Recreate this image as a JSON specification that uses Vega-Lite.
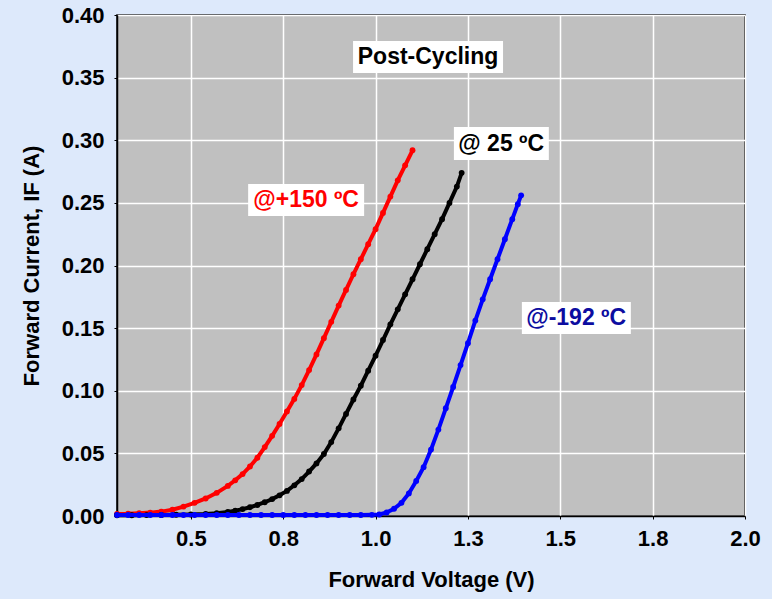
{
  "$schema": "https://vega.github.io/schema/vega-lite/v6.json",
  "width": 628,
  "height": 501,
  "autosize": {"type": "none"},
  "padding": {"left": 117, "top": 15, "right": 27, "bottom": 83},
  "background": "#dde9fb",
  "config": {
    "font": "Liberation Sans",
    "view": {"fill": "#c0c0c0", "stroke": "#000000", "strokeWidth": 1.5},
    "axis": {
      "gridColor": "#ffffff", "gridWidth": 1.5, "gridOpacity": 1,
      "domainColor": "#000000", "domainWidth": 1.5,
      "tickColor": "#000000", "tickSize": 3,
      "labelFont": "Liberation Sans", "labelFontSize": 22, "labelFontWeight": "bold", "labelColor": "#000000",
      "titleFont": "Liberation Sans", "titleFontSize": 22, "titleFontWeight": "bold", "titleColor": "#000000"
    }
  },
  "datasets": {
    "curves": [
      {"s": "+150", "v": 0.30, "i": 0.0016}, {"s": "+150", "v": 0.33, "i": 0.0018}, {"s": "+150", "v": 0.36, "i": 0.0022},
      {"s": "+150", "v": 0.39, "i": 0.0027}, {"s": "+150", "v": 0.42, "i": 0.0035}, {"s": "+150", "v": 0.45, "i": 0.0050},
      {"s": "+150", "v": 0.48, "i": 0.0075}, {"s": "+150", "v": 0.51, "i": 0.0105}, {"s": "+150", "v": 0.54, "i": 0.0140},
      {"s": "+150", "v": 0.57, "i": 0.0185}, {"s": "+150", "v": 0.60, "i": 0.0240}, {"s": "+150", "v": 0.62, "i": 0.0285},
      {"s": "+150", "v": 0.64, "i": 0.0335}, {"s": "+150", "v": 0.66, "i": 0.0395}, {"s": "+150", "v": 0.68, "i": 0.0465},
      {"s": "+150", "v": 0.70, "i": 0.0550}, {"s": "+150", "v": 0.72, "i": 0.0640}, {"s": "+150", "v": 0.74, "i": 0.0735},
      {"s": "+150", "v": 0.76, "i": 0.0835}, {"s": "+150", "v": 0.78, "i": 0.0935}, {"s": "+150", "v": 0.80, "i": 0.1045},
      {"s": "+150", "v": 0.82, "i": 0.1165}, {"s": "+150", "v": 0.84, "i": 0.1290}, {"s": "+150", "v": 0.86, "i": 0.1420},
      {"s": "+150", "v": 0.88, "i": 0.1550}, {"s": "+150", "v": 0.90, "i": 0.1680}, {"s": "+150", "v": 0.92, "i": 0.1805},
      {"s": "+150", "v": 0.94, "i": 0.1930}, {"s": "+150", "v": 0.96, "i": 0.2050}, {"s": "+150", "v": 0.98, "i": 0.2170},
      {"s": "+150", "v": 1.00, "i": 0.2290}, {"s": "+150", "v": 1.02, "i": 0.2420}, {"s": "+150", "v": 1.04, "i": 0.2550},
      {"s": "+150", "v": 1.06, "i": 0.2680}, {"s": "+150", "v": 1.08, "i": 0.2800}, {"s": "+150", "v": 1.10, "i": 0.2920},

      {"s": "25", "v": 0.30, "i": 0.0006}, {"s": "25", "v": 0.34, "i": 0.0006}, {"s": "25", "v": 0.38, "i": 0.0007},
      {"s": "25", "v": 0.42, "i": 0.0008}, {"s": "25", "v": 0.46, "i": 0.0010}, {"s": "25", "v": 0.50, "i": 0.0012},
      {"s": "25", "v": 0.54, "i": 0.0016}, {"s": "25", "v": 0.57, "i": 0.0022}, {"s": "25", "v": 0.60, "i": 0.0032},
      {"s": "25", "v": 0.62, "i": 0.0042}, {"s": "25", "v": 0.64, "i": 0.0055}, {"s": "25", "v": 0.66, "i": 0.0070},
      {"s": "25", "v": 0.68, "i": 0.0088}, {"s": "25", "v": 0.70, "i": 0.0110}, {"s": "25", "v": 0.72, "i": 0.0135},
      {"s": "25", "v": 0.74, "i": 0.0165}, {"s": "25", "v": 0.76, "i": 0.0200}, {"s": "25", "v": 0.78, "i": 0.0245},
      {"s": "25", "v": 0.80, "i": 0.0295}, {"s": "25", "v": 0.82, "i": 0.0355}, {"s": "25", "v": 0.84, "i": 0.0420},
      {"s": "25", "v": 0.86, "i": 0.0495}, {"s": "25", "v": 0.88, "i": 0.0590}, {"s": "25", "v": 0.90, "i": 0.0700},
      {"s": "25", "v": 0.92, "i": 0.0815}, {"s": "25", "v": 0.94, "i": 0.0930}, {"s": "25", "v": 0.96, "i": 0.1040},
      {"s": "25", "v": 0.98, "i": 0.1160}, {"s": "25", "v": 1.00, "i": 0.1280}, {"s": "25", "v": 1.02, "i": 0.1405},
      {"s": "25", "v": 1.04, "i": 0.1530}, {"s": "25", "v": 1.06, "i": 0.1650}, {"s": "25", "v": 1.08, "i": 0.1770},
      {"s": "25", "v": 1.10, "i": 0.1890}, {"s": "25", "v": 1.12, "i": 0.2010}, {"s": "25", "v": 1.14, "i": 0.2130},
      {"s": "25", "v": 1.16, "i": 0.2250}, {"s": "25", "v": 1.18, "i": 0.2370}, {"s": "25", "v": 1.20, "i": 0.2500},
      {"s": "25", "v": 1.22, "i": 0.2630}, {"s": "25", "v": 1.233, "i": 0.2740},

      {"s": "-192", "v": 0.30, "i": 0.0008}, {"s": "-192", "v": 0.33, "i": 0.0008}, {"s": "-192", "v": 0.36, "i": 0.0008},
      {"s": "-192", "v": 0.39, "i": 0.0008}, {"s": "-192", "v": 0.42, "i": 0.0008}, {"s": "-192", "v": 0.45, "i": 0.0008},
      {"s": "-192", "v": 0.48, "i": 0.0008}, {"s": "-192", "v": 0.51, "i": 0.0008}, {"s": "-192", "v": 0.54, "i": 0.0008},
      {"s": "-192", "v": 0.57, "i": 0.0008}, {"s": "-192", "v": 0.60, "i": 0.0008}, {"s": "-192", "v": 0.63, "i": 0.0008},
      {"s": "-192", "v": 0.66, "i": 0.0008}, {"s": "-192", "v": 0.69, "i": 0.0008}, {"s": "-192", "v": 0.72, "i": 0.0008},
      {"s": "-192", "v": 0.75, "i": 0.0008}, {"s": "-192", "v": 0.78, "i": 0.0008}, {"s": "-192", "v": 0.81, "i": 0.0008},
      {"s": "-192", "v": 0.84, "i": 0.0008}, {"s": "-192", "v": 0.87, "i": 0.0008}, {"s": "-192", "v": 0.90, "i": 0.0008},
      {"s": "-192", "v": 0.93, "i": 0.0008}, {"s": "-192", "v": 0.96, "i": 0.0008}, {"s": "-192", "v": 0.99, "i": 0.0009},
      {"s": "-192", "v": 1.01, "i": 0.0012}, {"s": "-192", "v": 1.03, "i": 0.0028}, {"s": "-192", "v": 1.05, "i": 0.0058},
      {"s": "-192", "v": 1.07, "i": 0.0105}, {"s": "-192", "v": 1.09, "i": 0.0180}, {"s": "-192", "v": 1.11, "i": 0.0280},
      {"s": "-192", "v": 1.13, "i": 0.0390}, {"s": "-192", "v": 1.15, "i": 0.0530}, {"s": "-192", "v": 1.17, "i": 0.0690},
      {"s": "-192", "v": 1.19, "i": 0.0860}, {"s": "-192", "v": 1.21, "i": 0.1030}, {"s": "-192", "v": 1.23, "i": 0.1205},
      {"s": "-192", "v": 1.25, "i": 0.1380}, {"s": "-192", "v": 1.27, "i": 0.1560}, {"s": "-192", "v": 1.29, "i": 0.1730},
      {"s": "-192", "v": 1.31, "i": 0.1890}, {"s": "-192", "v": 1.33, "i": 0.2050}, {"s": "-192", "v": 1.35, "i": 0.2210},
      {"s": "-192", "v": 1.37, "i": 0.2370}, {"s": "-192", "v": 1.385, "i": 0.2490}, {"s": "-192", "v": 1.394, "i": 0.2560}
    ],
    "labels": [
      {"label": "Post-Cycling", "v": 1.142, "i": 0.3665, "v0": 0.939, "v1": 1.345, "i0": 0.3537, "i1": 0.3792},
      {"label": "@ 25 ºC", "v": 1.340, "i": 0.2974, "v0": 1.212, "v1": 1.469, "i0": 0.2842, "i1": 0.3106},
      {"label": "@+150 ºC", "v": 0.812, "i": 0.2523, "v0": 0.655, "v1": 0.969, "i0": 0.2395, "i1": 0.2651},
      {"label": "@-192 ºC", "v": 1.543, "i": 0.1581, "v0": 1.396, "v1": 1.691, "i0": 0.1453, "i1": 0.1709}
    ]
  },
  "encoding": {
    "x": {
      "field": "v", "type": "quantitative",
      "scale": {"domain": [0.3, 2.0], "nice": false, "zero": false},
      "axis": {"values": [0.5, 0.75, 1, 1.25, 1.5, 1.75, 2], "format": ".1f", "title": "Forward Voltage (V)",
               "labelFlush": false, "labelPadding": 9, "titlePadding": 20}
    },
    "y": {
      "field": "i", "type": "quantitative",
      "scale": {"domain": [0, 0.4], "nice": false, "zero": true},
      "axis": {"values": [0, 0.05, 0.1, 0.15, 0.2, 0.25, 0.3, 0.35, 0.4], "format": ".2f", "title": "Forward Current, IF (A)",
               "labelPadding": 10, "titlePadding": 18}
    }
  },
  "layer": [
    {
      "data": {"name": "curves"},
      "transform": [{"filter": "datum.s === '+150'"}],
      "mark": {"type": "line", "color": "#ff0000", "strokeWidth": 4, "point": {"filled": true, "size": 34, "color": "#ff0000"}}
    },
    {
      "data": {"name": "curves"},
      "transform": [{"filter": "datum.s === '25'"}],
      "mark": {"type": "line", "color": "#000000", "strokeWidth": 4, "point": {"filled": true, "size": 34, "color": "#000000"}}
    },
    {
      "data": {"name": "curves"},
      "transform": [{"filter": "datum.s === '-192'"}],
      "mark": {"type": "line", "color": "#0000ff", "strokeWidth": 4, "point": {"filled": true, "size": 34, "color": "#0000ff"}}
    },
    {
      "data": {"name": "labels"},
      "mark": {"type": "rect", "fill": "#ffffff"},
      "encoding": {
        "x": {"field": "v0", "type": "quantitative"},
        "x2": {"field": "v1"},
        "y": {"field": "i0", "type": "quantitative"},
        "y2": {"field": "i1"}
      }
    },
    {
      "data": {"name": "labels"},
      "mark": {"type": "text", "font": "Liberation Sans", "fontSize": 23, "fontWeight": "bold", "align": "center", "baseline": "middle"},
      "encoding": {
        "text": {"field": "label", "type": "nominal"},
        "color": {
          "field": "label", "type": "nominal",
          "scale": {"domain": ["Post-Cycling", "@ 25 ºC", "@+150 ºC", "@-192 ºC"], "range": ["#000000", "#000000", "#ff0000", "#0c0ca0"]},
          "legend": null
        }
      }
    }
  ]
}
